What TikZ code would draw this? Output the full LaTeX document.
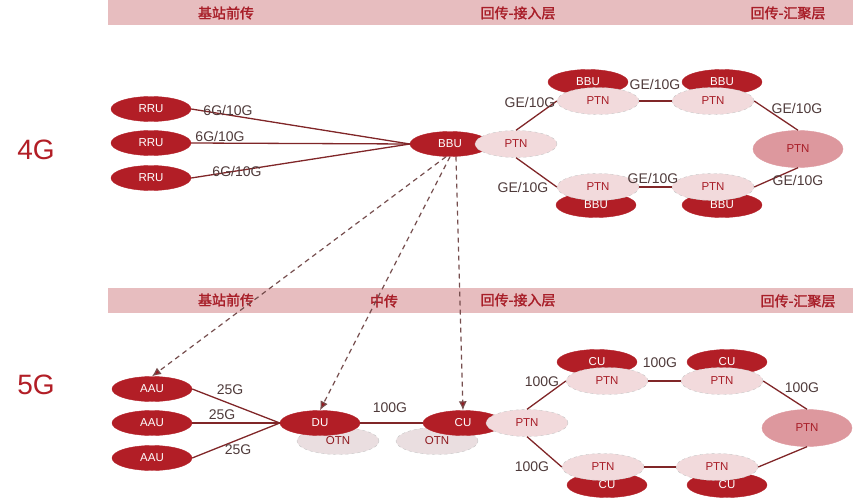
\documentclass[tikz,border=0pt]{standalone}
\usepackage{fontspec}
\setmainfont{Liberation Sans}
\newfontfamily\cjk[AutoFakeBold=1.6]{Noto Sans CJK SC}
\usetikzlibrary{shapes.geometric,arrows.meta}
\definecolor{unitred}{RGB}{178,30,38}
\definecolor{ptnpink}{RGB}{242,218,220}
\definecolor{hubpink}{RGB}{221,152,158}
\definecolor{otngray}{RGB}{234,222,224}
\definecolor{bandpink}{RGB}{231,189,191}
\definecolor{bandtext}{RGB}{168,30,40}
\definecolor{ratetext}{RGB}{78,58,58}
\definecolor{linkred}{RGB}{128,38,40}
\definecolor{sigline}{RGB}{118,78,78}

\begin{document}
\begin{tikzpicture}[x=1pt,y=-1pt,
  unit/.style={ellipse,fill=unitred,draw=unitred,text=white,minimum width=80,minimum height=25,inner sep=0pt,font=\fontsize{11.5}{12}\selectfont},
  ptn/.style={ellipse,fill=ptnpink,draw=gray!45,dashed,text=bandtext,minimum width=82,minimum height=27,inner sep=0pt,font=\fontsize{11.5}{12}\selectfont},
  hub/.style={ptn,fill=hubpink,draw=hubpink,solid,minimum width=90,minimum height=37},
  otn/.style={ptn,fill=otngray,text=unitred!80!black},
  rate/.style={text=ratetext,inner sep=0pt,font=\fontsize{14}{15}\selectfont},
  band/.style={fill=bandpink,draw=none},
  bandlabel/.style={text=bandtext,inner sep=0pt,font=\cjk\bfseries\fontsize{14}{15}\selectfont},
  gen/.style={text=unitred,inner sep=0pt,font=\fontsize{28}{30}\selectfont},
  link/.style={draw=linkred,line width=1.3pt},
  sig/.style={draw=sigline,line width=1.2pt,dash pattern={on 5pt off 4pt},-{Latex[length=9pt,width=8pt,fill=unitred!85!black]}}]
\useasboundingbox (0,0) rectangle (853,500);

\fill[band] (108,0) rectangle (853,25);
\fill[band] (108,288) rectangle (853,313);
\node[bandlabel] (h1) at (226,13) {基站前传};
\node[bandlabel] (h2) at (518,13) {回传-接入层};
\node[bandlabel] (h3) at (788,13) {回传-汇聚层};
\node[bandlabel] (h4) at (226,300) {基站前传};
\node[bandlabel] (h5) at (384,301) {中传};
\node[bandlabel] (h6) at (518,300) {回传-接入层};
\node[bandlabel] (h7) at (798,301) {回传-汇聚层};

\node[gen] (g4) at (36,150) {4G};
\node[gen] (g5) at (36,385) {5G};

% 4G
\node[unit] (rru1) at (151,109) {RRU};
\node[unit] (rru2) at (151,143) {RRU};
\node[unit] (rru3) at (151,178) {RRU};
\node[unit] (bbu) at (450,144) {BBU};
\node[ptn] (ptn0) at (516,144) {PTN};
\node[unit] (bbuA) at (588,82) {BBU};
\node[ptn] (ptnA) at (598,101) {PTN};
\node[unit] (bbuB) at (722,82) {BBU};
\node[ptn] (ptnB) at (713,101) {PTN};
\node[hub] (hub4) at (798,149) {PTN};
\node[unit] (bbuC) at (596,205) {BBU};
\node[ptn] (ptnC) at (598,187) {PTN};
\node[unit] (bbuD) at (722,205) {BBU};
\node[ptn] (ptnD) at (713,187) {PTN};

\draw[link] (rru1.east) -- (bbu.west);
\draw[link] (rru2.east) -- (bbu.west);
\draw[link] (rru3.east) -- (bbu.west);
\draw[link] (ptn0.north) -- (ptnA.west);
\draw[link] (ptn0.south) -- (ptnC.west);
\draw[link] (ptnA.east) -- (ptnB.west);
\draw[link] (ptnC.east) -- (ptnD.west);
\draw[link] (ptnB.east) -- (hub4.north);
\draw[link] (ptnD.east) -- (hub4.south);

\node[rate] (r1) at (228,110) {6G/10G};
\node[rate] (r2) at (220,136) {6G/10G};
\node[rate] (r3) at (237,171) {6G/10G};
\node[rate] (r4) at (530,102) {GE/10G};
\node[rate] (r5) at (655,84) {GE/10G};
\node[rate] (r6) at (797,108) {GE/10G};
\node[rate] (r7) at (523,187) {GE/10G};
\node[rate] (r8) at (653,178) {GE/10G};
\node[rate] (r9) at (798,180) {GE/10G};

% 5G
\node[unit] (aau1) at (152,389) {AAU};
\node[unit] (aau2) at (152,423) {AAU};
\node[unit] (aau3) at (152,458) {AAU};
\node[otn] (otn1) at (338,441) {OTN};
\node[unit] (du) at (320,423) {DU};
\node[otn] (otn2) at (437,441) {OTN};
\node[unit] (cu) at (463,423) {CU};
\node[ptn] (ptn5) at (527,423) {PTN};
\node[unit] (cuA) at (597,362) {CU};
\node[ptn] (ptnE) at (607,381) {PTN};
\node[unit] (cuB) at (727,362) {CU};
\node[ptn] (ptnF) at (722,381) {PTN};
\node[hub] (hub5) at (807,428) {PTN};
\node[unit] (cuC) at (607,485) {CU};
\node[ptn] (ptnG) at (603,467) {PTN};
\node[unit] (cuD) at (727,485) {CU};
\node[ptn] (ptnH) at (717,467) {PTN};

\draw[link] (aau1.east) -- (du.west);
\draw[link] (aau2.east) -- (du.west);
\draw[link] (aau3.east) -- (du.west);
\draw[link] (du.east) -- (cu.west);
\draw[link] (ptn5.north) -- (ptnE.west);
\draw[link] (ptn5.south) -- (ptnG.west);
\draw[link] (ptnE.east) -- (ptnF.west);
\draw[link] (ptnG.east) -- (ptnH.west);
\draw[link] (ptnF.east) -- (hub5.north);
\draw[link] (ptnH.east) -- (hub5.south);

\node[rate] (s1) at (230,390) {25G};
\node[rate] (s2) at (222,415) {25G};
\node[rate] (s3) at (238,450) {25G};
\node[rate] (s4) at (390,408) {100G};
\node[rate] (s5) at (542,382) {100G};
\node[rate] (s6) at (660,363) {100G};
\node[rate] (s7) at (802,388) {100G};
\node[rate] (s8) at (532,467) {100G};

\draw[sig] ([xshift=-4pt]bbu.south) -- (aau1.north);
\draw[sig] (bbu.south) -- (du.north);
\draw[sig] ([xshift=6pt]bbu.south) -- (cu.north);
\end{tikzpicture}
\end{document}
